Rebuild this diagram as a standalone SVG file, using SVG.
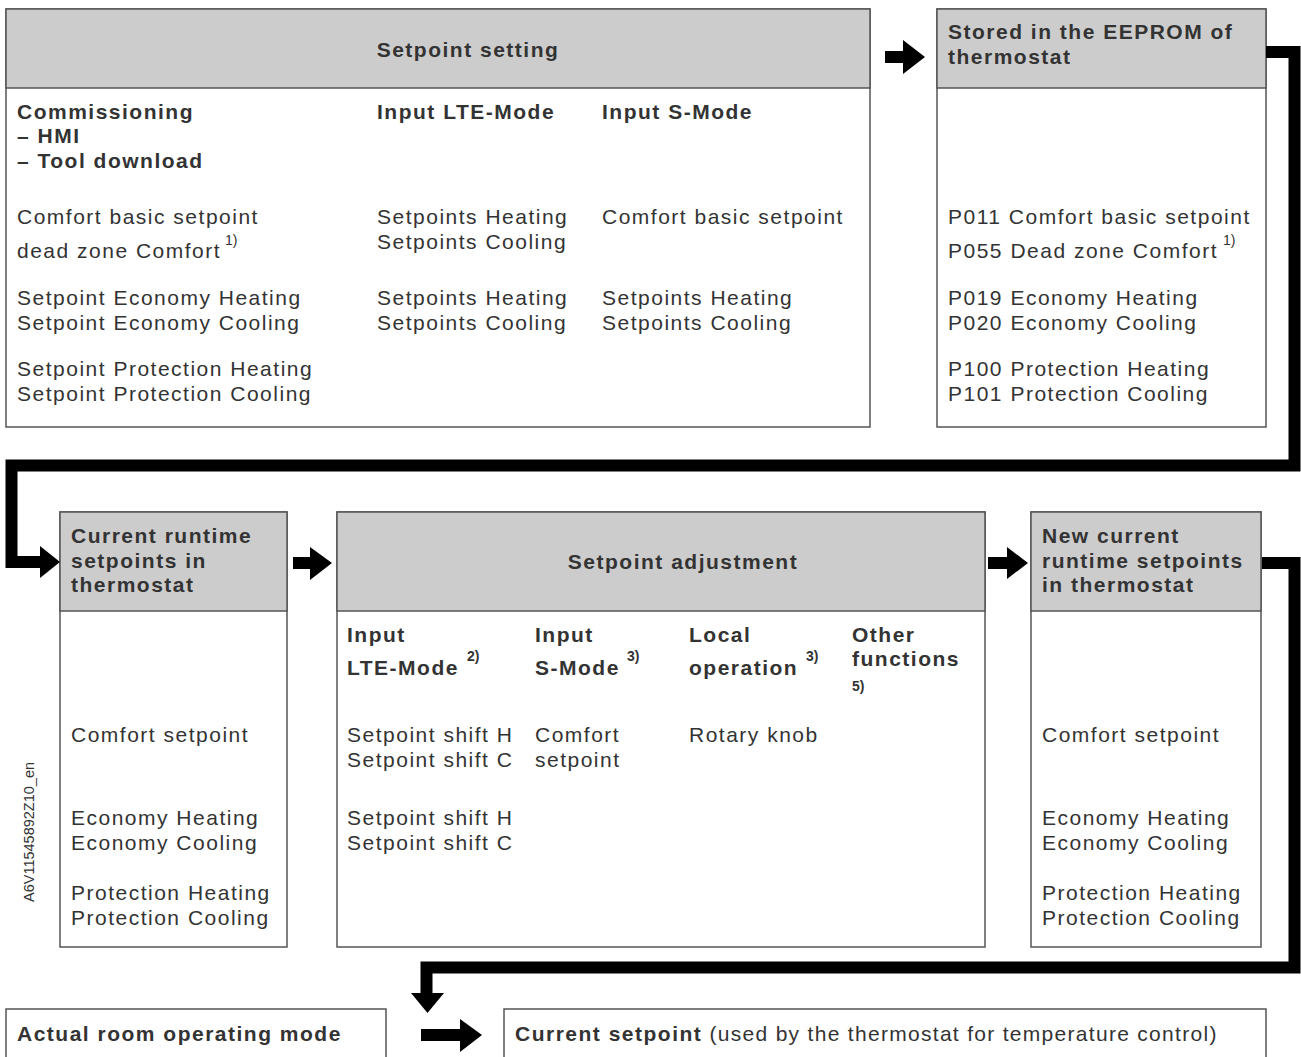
<svg xmlns="http://www.w3.org/2000/svg" width="1301" height="1057" viewBox="0 0 1301 1057">
<style>
.box{fill:#fff;stroke:#555;stroke-width:1.5}
.hdr{fill:#cccccc;stroke:#555;stroke-width:1.5}
.b{font-family:"Liberation Sans",Arial,sans-serif;font-weight:bold;font-size:21px;fill:#333;letter-spacing:1.5px}
.r{font-family:"Liberation Sans",Arial,sans-serif;font-size:21px;fill:#333;letter-spacing:1.5px}
.s{font-family:"Liberation Sans",Arial,sans-serif;font-size:14px;fill:#333}
.sb{font-family:"Liberation Sans",Arial,sans-serif;font-size:14px;font-weight:bold;fill:#333}
.c{text-anchor:middle}
.conn{fill:none;stroke:#000;stroke-width:12;stroke-linejoin:miter}
.ah{fill:#000}
</style>
<rect width="1301" height="1057" fill="#fff"/>

<g id="node-setpoint-setting">
<rect class="box" x="6" y="9" width="864" height="418"/>
<rect class="hdr" x="6" y="9" width="864" height="79"/>
<text class="b c" x="468" y="57">Setpoint setting</text>
<text class="b" x="17" y="119">Commissioning</text>
<text class="b" x="17" y="143">– HMI</text>
<text class="b" x="17" y="168">– Tool download</text>
<text class="b" x="377" y="119">Input LTE-Mode</text>
<text class="b" x="602" y="119">Input S-Mode</text>
<text class="r" x="17" y="224">Comfort basic setpoint</text>
<text class="r" x="17" y="258">dead zone Comfort</text>
<text class="s" x="225" y="245">1)</text>
<text class="r" x="17" y="305">Setpoint Economy Heating</text>
<text class="r" x="17" y="330">Setpoint Economy Cooling</text>
<text class="r" x="17" y="376">Setpoint Protection Heating</text>
<text class="r" x="17" y="401">Setpoint Protection Cooling</text>
<text class="r" x="377" y="224">Setpoints Heating</text>
<text class="r" x="377" y="249">Setpoints Cooling</text>
<text class="r" x="377" y="305">Setpoints Heating</text>
<text class="r" x="377" y="330">Setpoints Cooling</text>
<text class="r" x="602" y="224">Comfort basic setpoint</text>
<text class="r" x="602" y="305">Setpoints Heating</text>
<text class="r" x="602" y="330">Setpoints Cooling</text>
</g>

<g id="node-eeprom">
<rect class="box" x="937" y="9" width="329" height="418"/>
<rect class="hdr" x="937" y="9" width="329" height="79"/>
<text class="b" x="948" y="39">Stored in the EEPROM of</text>
<text class="b" x="948" y="64">thermostat</text>
<text class="r" x="948" y="224">P011 Comfort basic setpoint</text>
<text class="r" x="948" y="258">P055 Dead zone Comfort</text>
<text class="s" x="1223" y="245">1)</text>
<text class="r" x="948" y="305">P019 Economy Heating</text>
<text class="r" x="948" y="330">P020 Economy Cooling</text>
<text class="r" x="948" y="376">P100 Protection Heating</text>
<text class="r" x="948" y="401">P101 Protection Cooling</text>
</g>

<g id="node-current-runtime">
<rect class="box" x="60" y="512" width="227" height="435"/>
<rect class="hdr" x="60" y="512" width="227" height="99"/>
<text class="b" x="71" y="543">Current runtime</text>
<text class="b" x="71" y="568">setpoints in</text>
<text class="b" x="71" y="592">thermostat</text>
<text class="r" x="71" y="742">Comfort setpoint</text>
<text class="r" x="71" y="825">Economy Heating</text>
<text class="r" x="71" y="850">Economy Cooling</text>
<text class="r" x="71" y="900">Protection Heating</text>
<text class="r" x="71" y="925">Protection Cooling</text>
</g>

<g id="node-setpoint-adjustment">
<rect class="box" x="337" y="512" width="648" height="435"/>
<rect class="hdr" x="337" y="512" width="648" height="99"/>
<text class="b c" x="683" y="569">Setpoint adjustment</text>
<text class="b" x="347" y="642">Input</text>
<text class="b" x="347" y="675">LTE-Mode</text>
<text class="sb" x="467" y="661">2)</text>
<text class="b" x="535" y="642">Input</text>
<text class="b" x="535" y="675">S-Mode</text>
<text class="sb" x="627" y="661">3)</text>
<text class="b" x="689" y="642">Local</text>
<text class="b" x="689" y="675">operation</text>
<text class="sb" x="806" y="661">3)</text>
<text class="b" x="852" y="642">Other</text>
<text class="b" x="852" y="666">functions</text>
<text class="sb" x="852" y="691">5)</text>
<text class="r" x="347" y="742">Setpoint shift H</text>
<text class="r" x="347" y="767">Setpoint shift C</text>
<text class="r" x="347" y="825">Setpoint shift H</text>
<text class="r" x="347" y="850">Setpoint shift C</text>
<text class="r" x="535" y="742">Comfort</text>
<text class="r" x="535" y="767">setpoint</text>
<text class="r" x="689" y="742">Rotary knob</text>
</g>

<g id="node-new-runtime">
<rect class="box" x="1031" y="512" width="230" height="435"/>
<rect class="hdr" x="1031" y="512" width="230" height="99"/>
<text class="b" x="1042" y="543">New current</text>
<text class="b" x="1042" y="568">runtime setpoints</text>
<text class="b" x="1042" y="592">in thermostat</text>
<text class="r" x="1042" y="742">Comfort setpoint</text>
<text class="r" x="1042" y="825">Economy Heating</text>
<text class="r" x="1042" y="850">Economy Cooling</text>
<text class="r" x="1042" y="900">Protection Heating</text>
<text class="r" x="1042" y="925">Protection Cooling</text>
</g>

<g id="node-actual-mode">
<rect class="box" x="6" y="1009" width="380" height="70"/>
<text class="b" x="17" y="1041">Actual room operating mode</text>
</g>

<g id="node-current-setpoint">
<rect class="box" x="504" y="1009" width="762" height="70"/>
<text class="b" x="515" y="1041">Current setpoint<tspan font-weight="normal" letter-spacing="1.3px"> (used by the thermostat for temperature control)</tspan></text>
</g>

<g id="connectors">
<polygon class="ah" points="885,51 903,51 903,40 925,57 903,74 903,63 885,63"/>
<path class="conn" d="M1266,52 H1294.5 V465.5 H11.5 V562 H41"/>
<polygon class="ah" points="40,546 60,562 40,578"/>
<polygon class="ah" points="293,557 310,557 310,547 332,563 310,580 310,569 293,569"/>
<polygon class="ah" points="988,557 1007,557 1007,547 1028,563 1007,579 1007,569 988,569"/>
<path class="conn" d="M1262,563 H1294.5 V967.5 H426.5 V994"/>
<polygon class="ah" points="411,993 444,993 427.5,1013"/>
<polygon class="ah" points="421,1029 460,1029 460,1019 482,1035 460,1052 460,1041 421,1041"/>
</g>

<text class="s" transform="translate(34,832) rotate(-90)" text-anchor="middle" style="font-size:14.5px">A6V11545892Z10_en</text>
</svg>
